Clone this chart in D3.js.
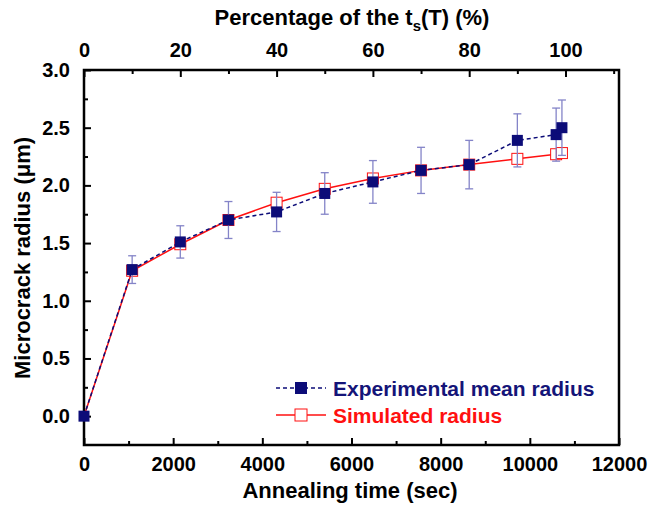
<!DOCTYPE html>
<html>
<head>
<meta charset="utf-8">
<script src="https://cdn.jsdelivr.net/npm/d3@7"></script>
<style>
  body { margin: 0; background: #fff; }
  text { font-family: "Liberation Sans", Arial, sans-serif; font-weight: bold; }
</style>
</head>
<body>
<svg id="chart" width="650" height="505"></svg>
<script>
// annealing times (sec), 100% of ts(T) = 10800 sec
var times = [0, 1080, 2160, 3240, 4320, 5400, 6480, 7560, 8640, 9720, 10590, 10720];
var expRadius = [0.0, 1.27, 1.51, 1.70, 1.77, 1.93, 2.03, 2.13, 2.18, 2.39, 2.44, 2.50];
var expError  = [0.0, 0.12, 0.14, 0.16, 0.17, 0.18, 0.185, 0.20, 0.21, 0.23, 0.23, 0.24];
var simRadius = [0.0, 1.26, 1.49, 1.70, 1.85, 1.97, 2.06, 2.13, 2.18, 2.23, 2.27, 2.28];
var xTicks = [0, 2000, 4000, 6000, 8000, 10000, 12000];
var topTicks = [0, 20, 40, 60, 80, 100];
var yTicks = [0.0, 0.5, 1.0, 1.5, 2.0, 2.5, 3.0];

var svg = d3.select("#chart");
var plotL = 84, plotR = 619, plotT = 70, plotB = 445;

var x = d3.scaleLinear().domain([0, 12000]).range([plotL, plotR]);
var xTop = d3.scaleLinear().domain([0, 12000 / 108]).range([plotL, plotR]);
var y = d3.scaleLinear().domain([-0.25, 3.0]).range([plotB, plotT]);

var navy = "#0c0c78", red = "#ff1010", errCol = "#8484c8";

// axes - ticks point inward
function styleAxis(g) {
  g.select(".domain").remove();
  g.selectAll(".tick line").attr("stroke", "#000").attr("stroke-width", 2);
  g.selectAll(".tick text").attr("font-size", 20).attr("fill", "#000");
}

svg.append("g").attr("transform", "translate(0," + plotB + ")")
  .call(d3.axisBottom(x).tickValues(xTicks).tickSize(-7).tickPadding(12).tickFormat(d3.format("d")))
  .call(styleAxis);
svg.append("g").attr("transform", "translate(0," + plotB + ")")
  .call(d3.axisBottom(x).tickValues(d3.range(1000, 12000, 2000)).tickSize(-4).tickFormat(""))
  .call(styleAxis);

svg.append("g").attr("transform", "translate(0," + plotT + ")")
  .call(d3.axisTop(xTop).tickValues(topTicks).tickSize(-7).tickPadding(13).tickFormat(d3.format("d")))
  .call(styleAxis);
svg.append("g").attr("transform", "translate(0," + plotT + ")")
  .call(d3.axisTop(xTop).tickValues(d3.range(10, 111, 20)).tickSize(-4).tickFormat(""))
  .call(styleAxis);

svg.append("g").attr("transform", "translate(" + plotL + ",0)")
  .call(d3.axisLeft(y).tickValues(yTicks).tickSize(-7).tickPadding(14).tickFormat(d3.format(".1f")))
  .call(styleAxis);
svg.append("g").attr("transform", "translate(" + plotL + ",0)")
  .call(d3.axisLeft(y).tickValues(d3.range(0.25, 3, 0.5)).tickSize(-4).tickFormat(""))
  .call(styleAxis);

svg.append("rect").attr("x", plotL).attr("y", plotT)
  .attr("width", plotR - plotL).attr("height", plotB - plotT)
  .attr("fill", "none").attr("stroke", "#000").attr("stroke-width", 2.5);

// axis titles
svg.append("text").attr("x", 350).attr("y", 498).attr("text-anchor", "middle")
  .attr("font-size", 22).text("Annealing time (sec)");
svg.append("text").attr("transform", "translate(30,258) rotate(-90)")
  .attr("text-anchor", "middle").attr("font-size", 22).text("Microcrack radius (\u03bcm)");
var tt = svg.append("text").attr("x", 352).attr("y", 25).attr("text-anchor", "middle")
  .attr("font-size", 22);
tt.append("tspan").text("Percentage of the t");
tt.append("tspan").attr("font-size", 15).attr("dy", 6).text("s");
tt.append("tspan").attr("dy", -6).text("(T) (%)");

var pts = times.map(function(t, i) {
  return { t: t, e: expRadius[i], err: expError[i], s: simRadius[i] };
});

// simulated
var line = d3.line();
svg.append("path")
  .attr("d", line(pts.map(function(d) { return [x(d.t), y(d.s)]; })))
  .attr("fill", "none").attr("stroke", red).attr("stroke-width", 1.5);
svg.selectAll(".sim").data(pts.slice(1)).enter().append("rect")
  .attr("x", function(d) { return x(d.t) - 5.5; })
  .attr("y", function(d) { return y(d.s) - 5.5; })
  .attr("width", 11).attr("height", 11)
  .attr("fill", "#fff").attr("stroke", red).attr("stroke-width", 1);

// error bars
var eb = svg.selectAll(".err").data(pts.slice(1)).enter().append("g")
  .attr("stroke", errCol).attr("stroke-width", 1.3);
eb.append("line")
  .attr("x1", function(d) { return x(d.t); }).attr("x2", function(d) { return x(d.t); })
  .attr("y1", function(d) { return y(d.e - d.err); }).attr("y2", function(d) { return y(d.e + d.err); });
eb.append("line")
  .attr("x1", function(d) { return x(d.t) - 4; }).attr("x2", function(d) { return x(d.t) + 4; })
  .attr("y1", function(d) { return y(d.e + d.err); }).attr("y2", function(d) { return y(d.e + d.err); });
eb.append("line")
  .attr("x1", function(d) { return x(d.t) - 4; }).attr("x2", function(d) { return x(d.t) + 4; })
  .attr("y1", function(d) { return y(d.e - d.err); }).attr("y2", function(d) { return y(d.e - d.err); });

// experimental
svg.append("path")
  .attr("d", line(pts.map(function(d) { return [x(d.t), y(d.e)]; })))
  .attr("fill", "none").attr("stroke", navy).attr("stroke-width", 1.5)
  .attr("stroke-dasharray", "4,3");
svg.selectAll(".exp").data(pts).enter().append("rect")
  .attr("x", function(d) { return x(d.t) - 5.5; })
  .attr("y", function(d) { return y(d.e) - 5.5; })
  .attr("width", 11).attr("height", 11)
  .attr("fill", navy);

// legend
var lg = svg.append("g");
lg.append("line").attr("x1", 276).attr("x2", 326).attr("y1", 388).attr("y2", 388)
  .attr("stroke", navy).attr("stroke-width", 1.5).attr("stroke-dasharray", "4,3");
lg.append("rect").attr("x", 295).attr("y", 382).attr("width", 12).attr("height", 12).attr("fill", navy);
lg.append("text").attr("x", 333).attr("y", 396).attr("font-size", 21).attr("fill", "#141478")
  .text("Experimental mean radius");
lg.append("line").attr("x1", 276).attr("x2", 326).attr("y1", 415).attr("y2", 415)
  .attr("stroke", red).attr("stroke-width", 1.5);
lg.append("rect").attr("x", 295).attr("y", 409).attr("width", 12).attr("height", 12)
  .attr("fill", "#fff").attr("stroke", red).attr("stroke-width", 1);
lg.append("text").attr("x", 333).attr("y", 423).attr("font-size", 21).attr("fill", red)
  .text("Simulated radius");
</script>
</body>
</html>
